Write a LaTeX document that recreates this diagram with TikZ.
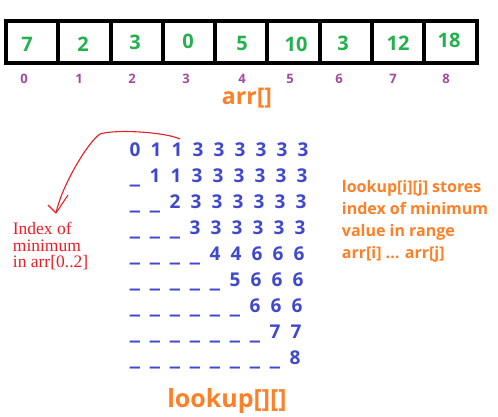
\documentclass[tikz,border=0pt]{standalone}
\usepackage{fontspec}
\usepackage{graphicx}
\setmainfont{Open Sans}
\newfontfamily\redserif{Liberation Serif}
\definecolor{pgreen}{HTML}{22B14C}
\definecolor{ppurple}{HTML}{A349A4}
\definecolor{porange}{HTML}{FF7F27}
\definecolor{pblue}{HTML}{3F48CC}
\definecolor{pred}{HTML}{ED1C24}
\tikzset{
  cell/.style={draw=black, line width=4pt, minimum width=52.28pt, minimum height=41.5pt, inner sep=0pt},
  num/.style={text=pgreen, font=\bfseries\fontsize{20}{24}\selectfont, inner sep=0pt},
  idx/.style={text=ppurple, font=\bfseries\fontsize{13}{15}\selectfont, inner sep=0pt},
  mat/.style={text=pblue, font=\bfseries\fontsize{19}{22}\selectfont, inner sep=0pt, anchor=base},
  title/.style={text=porange, font=\bfseries\fontsize{23}{28}\selectfont, inner sep=0pt, anchor=base},
  note/.style={text=porange, font=\bfseries\fontsize{16}{22}\selectfont, inner sep=0pt, align=left},
  rednote/.style={text=pred, font=\redserif\fontsize{17.5}{16.7}\selectfont, inner sep=0pt, align=left},
  redline/.style={draw=pred, line width=1.1pt}
}
\begin{document}
\begin{tikzpicture}[x=1pt,y=-1pt]
\useasboundingbox (0,0) rectangle (498,416);
% array cells
\foreach \i in {0,...,8} {
  \node[cell] (c\i) at ({6+52.28*(\i+0.5)},41.75) {};
}
% array values
\node[num] (n0) at (27,44) {7};
\node[num] (n1) at (83,44) {2};
\node[num] (n2) at (135,42) {3};
\node[num] (n3) at (188,41) {0};
\node[num] (n4) at (242,43.5) {5};
\node[num] (n5) at (296,44) {10};
\node[num] (n6) at (343,43) {3};
\node[num] (n7) at (398,43) {12};
\node[num] (n8) at (449,40) {18};
% indices
\foreach \i/\x in {0/24,1/79,2/132,3/186,4/242,5/290,6/339,7/393,8/446} {
  \node[idx] (i\i) at (\x,79) {\i};
}
\node[title] (arr) at (247,104.3) {arr[]};
% lookup table
\foreach \vals [count=\r from 0] in {{0,1,1,3,3,3,3,3,3},{1,1,3,3,3,3,3,3},{2,3,3,3,3,3,3},{3,3,3,3,3,3},{4,4,6,6,6},{5,6,6,6},{6,6,6},{7,7},{8}} {
  \ifnum\r>0
    \foreach \k in {1,...,\r} {
      \node[mat] (u\r-\k) at ({135+20*(\k-1)},{156.8+26*\r}) {\scalebox{1.3}[1.5]{\_}};
    }
  \fi
  \foreach \v [count=\j from 0] in \vals {
    \node[mat] (m\r-\j) at ({135+20*\r+21*\j},{156.8+26*\r}) {\v};
  }
}
\node[title, font=\bfseries\fontsize{25}{30}\selectfont] (lookup) at (227,407) {lookup[][]};
% notes
\node[note, anchor=north west] (desc) at (341.7,180) {lookup[i][j] stores\\index of minimum\\value in range\\arr[i] ... arr[j]};
\node[rednote, anchor=north west] (idxnote) at (12.7,222) {Index of\\minimum\\in arr[0..2]};
% red hand-drawn arrow
\coordinate (astart) at (180,139);
\coordinate (atip) at (56,213);
\draw[redline] (astart) .. controls (165,132) and (115,129) .. (100,134) .. controls (88,142) and (62,185) .. (atip);
\draw[redline] (atip) -- ++(-8,-8);
\draw[redline] (atip) -- ++(12,-18);
\end{tikzpicture}
\end{document}
